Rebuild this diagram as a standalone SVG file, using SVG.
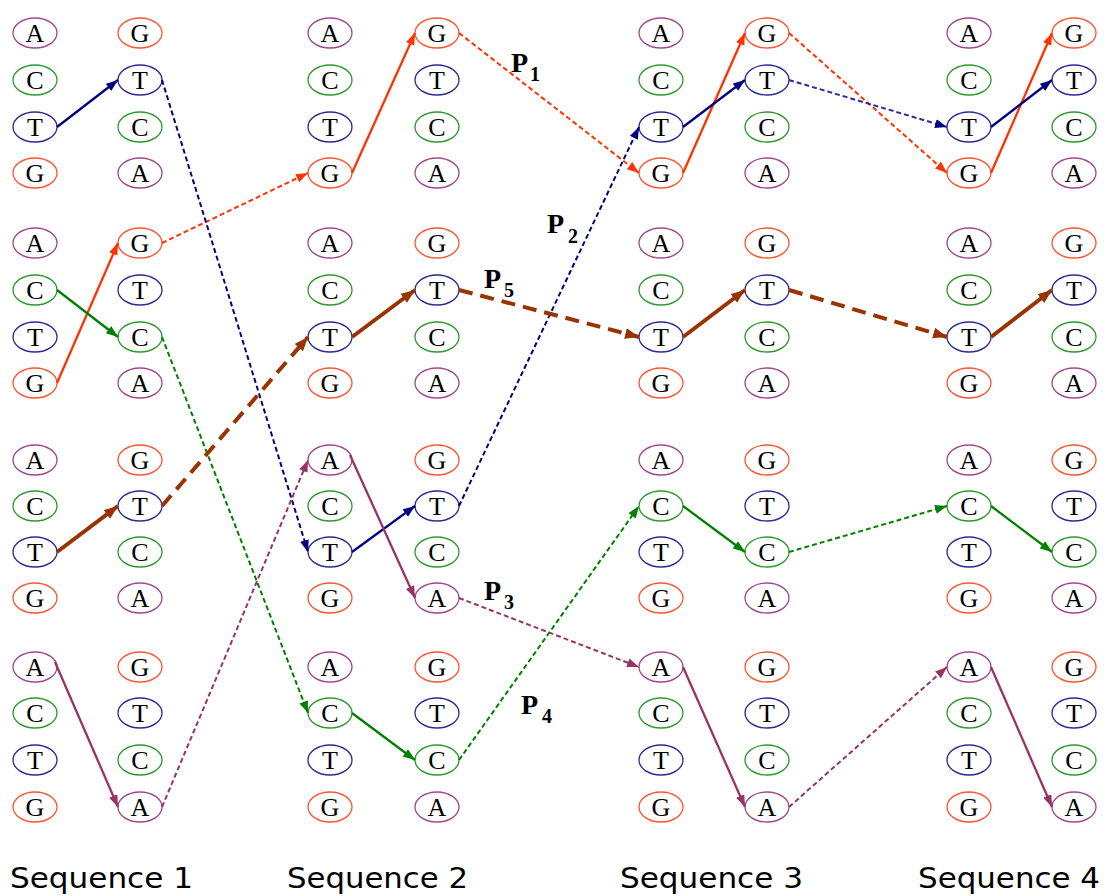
<svg xmlns="http://www.w3.org/2000/svg" width="1107" height="896" viewBox="0 0 1107 896">
<style>
.n ellipse{fill:#fff;stroke-width:1.3}
.n text{font-family:"Liberation Serif","Times New Roman",serif;font-size:26px;text-anchor:middle;fill:#000}
.a ellipse{stroke:#a0488c}
.c ellipse{stroke:#2e9a2e}
.t ellipse{stroke:#2a2a96}
.g ellipse{stroke:#ff5533}
.sol{fill:none;stroke-width:2.3}
.das{fill:none;stroke-width:2;stroke-dasharray:5 3}
.p1{stroke:#ff3300}.p2{stroke:#000080}.p3{stroke:#993366}.p4{stroke:#008000}
.p5s{fill:none;stroke:#993300;stroke-width:4}
.p5d{fill:none;stroke:#993300;stroke-width:4;stroke-dasharray:14 8}
.lbl{font-family:"Liberation Serif","Times New Roman",serif;font-size:28px;font-weight:bold;fill:#000}
.sub{font-family:"Liberation Serif","Times New Roman",serif;font-size:20px;font-weight:bold;fill:#000}
.seq{font-family:"DejaVu Sans",Verdana,sans-serif;font-size:28px;fill:#000}
</style>
<defs>
<marker id="m1" markerUnits="userSpaceOnUse" markerWidth="13" markerHeight="10" refX="12" refY="4.5" orient="auto"><path d="M0,0 L12,4.5 L0,9 z" fill="#ff3300"/></marker>
<marker id="m2" markerUnits="userSpaceOnUse" markerWidth="13" markerHeight="10" refX="12" refY="4.5" orient="auto"><path d="M0,0 L12,4.5 L0,9 z" fill="#000080"/></marker>
<marker id="m3" markerUnits="userSpaceOnUse" markerWidth="13" markerHeight="10" refX="12" refY="4.5" orient="auto"><path d="M0,0 L12,4.5 L0,9 z" fill="#993366"/></marker>
<marker id="m4" markerUnits="userSpaceOnUse" markerWidth="13" markerHeight="10" refX="12" refY="4.5" orient="auto"><path d="M0,0 L12,4.5 L0,9 z" fill="#008000"/></marker>
<marker id="m5" markerUnits="userSpaceOnUse" markerWidth="15" markerHeight="12" refX="14" refY="5.5" orient="auto"><path d="M0,0 L14,5.5 L0,11 z" fill="#993300"/></marker>
</defs>

<!-- Sequence 1 -->
<g id="s1L1A" class="n a"><ellipse cx="35" cy="33" rx="22" ry="15"/><text x="35" y="42">A</text></g>
<g id="s1L1C" class="n c"><ellipse cx="35" cy="80" rx="22" ry="15"/><text x="35" y="89">C</text></g>
<g id="s1L1T" class="n t"><ellipse cx="35" cy="127" rx="22" ry="15"/><text x="35" y="136">T</text></g>
<g id="s1L1G" class="n g"><ellipse cx="35" cy="173" rx="22" ry="15"/><text x="35" y="182">G</text></g>
<g id="s1R1G" class="n g"><ellipse cx="140" cy="33" rx="22" ry="15"/><text x="140" y="42">G</text></g>
<g id="s1R1T" class="n t"><ellipse cx="140" cy="80" rx="22" ry="15"/><text x="140" y="89">T</text></g>
<g id="s1R1C" class="n c"><ellipse cx="140" cy="127" rx="22" ry="15"/><text x="140" y="136">C</text></g>
<g id="s1R1A" class="n a"><ellipse cx="140" cy="173" rx="22" ry="15"/><text x="140" y="182">A</text></g>

<g id="s1L2A" class="n a"><ellipse cx="35" cy="243" rx="22" ry="15"/><text x="35" y="252">A</text></g>
<g id="s1L2C" class="n c"><ellipse cx="35" cy="290" rx="22" ry="15"/><text x="35" y="299">C</text></g>
<g id="s1L2T" class="n t"><ellipse cx="35" cy="337" rx="22" ry="15"/><text x="35" y="346">T</text></g>
<g id="s1L2G" class="n g"><ellipse cx="35" cy="383" rx="22" ry="15"/><text x="35" y="392">G</text></g>
<g id="s1R2G" class="n g"><ellipse cx="140" cy="243" rx="22" ry="15"/><text x="140" y="252">G</text></g>
<g id="s1R2T" class="n t"><ellipse cx="140" cy="290" rx="22" ry="15"/><text x="140" y="299">T</text></g>
<g id="s1R2C" class="n c"><ellipse cx="140" cy="337" rx="22" ry="15"/><text x="140" y="346">C</text></g>
<g id="s1R2A" class="n a"><ellipse cx="140" cy="383" rx="22" ry="15"/><text x="140" y="392">A</text></g>

<g id="s1L3A" class="n a"><ellipse cx="35" cy="460" rx="22" ry="15"/><text x="35" y="469">A</text></g>
<g id="s1L3C" class="n c"><ellipse cx="35" cy="506" rx="22" ry="15"/><text x="35" y="515">C</text></g>
<g id="s1L3T" class="n t"><ellipse cx="35" cy="552" rx="22" ry="15"/><text x="35" y="561">T</text></g>
<g id="s1L3G" class="n g"><ellipse cx="35" cy="598" rx="22" ry="15"/><text x="35" y="607">G</text></g>
<g id="s1R3G" class="n g"><ellipse cx="140" cy="460" rx="22" ry="15"/><text x="140" y="469">G</text></g>
<g id="s1R3T" class="n t"><ellipse cx="140" cy="506" rx="22" ry="15"/><text x="140" y="515">T</text></g>
<g id="s1R3C" class="n c"><ellipse cx="140" cy="552" rx="22" ry="15"/><text x="140" y="561">C</text></g>
<g id="s1R3A" class="n a"><ellipse cx="140" cy="598" rx="22" ry="15"/><text x="140" y="607">A</text></g>

<g id="s1L4A" class="n a"><ellipse cx="35" cy="667" rx="22" ry="15"/><text x="35" y="676">A</text></g>
<g id="s1L4C" class="n c"><ellipse cx="35" cy="713" rx="22" ry="15"/><text x="35" y="722">C</text></g>
<g id="s1L4T" class="n t"><ellipse cx="35" cy="760" rx="22" ry="15"/><text x="35" y="769">T</text></g>
<g id="s1L4G" class="n g"><ellipse cx="35" cy="807" rx="22" ry="15"/><text x="35" y="816">G</text></g>
<g id="s1R4G" class="n g"><ellipse cx="140" cy="667" rx="22" ry="15"/><text x="140" y="676">G</text></g>
<g id="s1R4T" class="n t"><ellipse cx="140" cy="713" rx="22" ry="15"/><text x="140" y="722">T</text></g>
<g id="s1R4C" class="n c"><ellipse cx="140" cy="760" rx="22" ry="15"/><text x="140" y="769">C</text></g>
<g id="s1R4A" class="n a"><ellipse cx="140" cy="807" rx="22" ry="15"/><text x="140" y="816">A</text></g>

<!-- Sequence 2 -->
<g id="s2L1A" class="n a"><ellipse cx="330" cy="33" rx="22" ry="15"/><text x="330" y="42">A</text></g>
<g id="s2L1C" class="n c"><ellipse cx="330" cy="80" rx="22" ry="15"/><text x="330" y="89">C</text></g>
<g id="s2L1T" class="n t"><ellipse cx="330" cy="127" rx="22" ry="15"/><text x="330" y="136">T</text></g>
<g id="s2L1G" class="n g"><ellipse cx="330" cy="173" rx="22" ry="15"/><text x="330" y="182">G</text></g>
<g id="s2R1G" class="n g"><ellipse cx="437" cy="33" rx="22" ry="15"/><text x="437" y="42">G</text></g>
<g id="s2R1T" class="n t"><ellipse cx="437" cy="80" rx="22" ry="15"/><text x="437" y="89">T</text></g>
<g id="s2R1C" class="n c"><ellipse cx="437" cy="127" rx="22" ry="15"/><text x="437" y="136">C</text></g>
<g id="s2R1A" class="n a"><ellipse cx="437" cy="173" rx="22" ry="15"/><text x="437" y="182">A</text></g>

<g id="s2L2A" class="n a"><ellipse cx="330" cy="243" rx="22" ry="15"/><text x="330" y="252">A</text></g>
<g id="s2L2C" class="n c"><ellipse cx="330" cy="290" rx="22" ry="15"/><text x="330" y="299">C</text></g>
<g id="s2L2T" class="n t"><ellipse cx="330" cy="337" rx="22" ry="15"/><text x="330" y="346">T</text></g>
<g id="s2L2G" class="n g"><ellipse cx="330" cy="383" rx="22" ry="15"/><text x="330" y="392">G</text></g>
<g id="s2R2G" class="n g"><ellipse cx="437" cy="243" rx="22" ry="15"/><text x="437" y="252">G</text></g>
<g id="s2R2T" class="n t"><ellipse cx="437" cy="290" rx="22" ry="15"/><text x="437" y="299">T</text></g>
<g id="s2R2C" class="n c"><ellipse cx="437" cy="337" rx="22" ry="15"/><text x="437" y="346">C</text></g>
<g id="s2R2A" class="n a"><ellipse cx="437" cy="383" rx="22" ry="15"/><text x="437" y="392">A</text></g>

<g id="s2L3A" class="n a"><ellipse cx="330" cy="460" rx="22" ry="15"/><text x="330" y="469">A</text></g>
<g id="s2L3C" class="n c"><ellipse cx="330" cy="506" rx="22" ry="15"/><text x="330" y="515">C</text></g>
<g id="s2L3T" class="n t"><ellipse cx="330" cy="552" rx="22" ry="15"/><text x="330" y="561">T</text></g>
<g id="s2L3G" class="n g"><ellipse cx="330" cy="598" rx="22" ry="15"/><text x="330" y="607">G</text></g>
<g id="s2R3G" class="n g"><ellipse cx="437" cy="460" rx="22" ry="15"/><text x="437" y="469">G</text></g>
<g id="s2R3T" class="n t"><ellipse cx="437" cy="506" rx="22" ry="15"/><text x="437" y="515">T</text></g>
<g id="s2R3C" class="n c"><ellipse cx="437" cy="552" rx="22" ry="15"/><text x="437" y="561">C</text></g>
<g id="s2R3A" class="n a"><ellipse cx="437" cy="598" rx="22" ry="15"/><text x="437" y="607">A</text></g>

<g id="s2L4A" class="n a"><ellipse cx="330" cy="667" rx="22" ry="15"/><text x="330" y="676">A</text></g>
<g id="s2L4C" class="n c"><ellipse cx="330" cy="713" rx="22" ry="15"/><text x="330" y="722">C</text></g>
<g id="s2L4T" class="n t"><ellipse cx="330" cy="760" rx="22" ry="15"/><text x="330" y="769">T</text></g>
<g id="s2L4G" class="n g"><ellipse cx="330" cy="807" rx="22" ry="15"/><text x="330" y="816">G</text></g>
<g id="s2R4G" class="n g"><ellipse cx="437" cy="667" rx="22" ry="15"/><text x="437" y="676">G</text></g>
<g id="s2R4T" class="n t"><ellipse cx="437" cy="713" rx="22" ry="15"/><text x="437" y="722">T</text></g>
<g id="s2R4C" class="n c"><ellipse cx="437" cy="760" rx="22" ry="15"/><text x="437" y="769">C</text></g>
<g id="s2R4A" class="n a"><ellipse cx="437" cy="807" rx="22" ry="15"/><text x="437" y="816">A</text></g>

<!-- Sequence 3 -->
<g id="s3L1A" class="n a"><ellipse cx="661" cy="33" rx="22" ry="15"/><text x="661" y="42">A</text></g>
<g id="s3L1C" class="n c"><ellipse cx="661" cy="80" rx="22" ry="15"/><text x="661" y="89">C</text></g>
<g id="s3L1T" class="n t"><ellipse cx="661" cy="127" rx="22" ry="15"/><text x="661" y="136">T</text></g>
<g id="s3L1G" class="n g"><ellipse cx="661" cy="173" rx="22" ry="15"/><text x="661" y="182">G</text></g>
<g id="s3R1G" class="n g"><ellipse cx="767" cy="33" rx="22" ry="15"/><text x="767" y="42">G</text></g>
<g id="s3R1T" class="n t"><ellipse cx="767" cy="80" rx="22" ry="15"/><text x="767" y="89">T</text></g>
<g id="s3R1C" class="n c"><ellipse cx="767" cy="127" rx="22" ry="15"/><text x="767" y="136">C</text></g>
<g id="s3R1A" class="n a"><ellipse cx="767" cy="173" rx="22" ry="15"/><text x="767" y="182">A</text></g>

<g id="s3L2A" class="n a"><ellipse cx="661" cy="243" rx="22" ry="15"/><text x="661" y="252">A</text></g>
<g id="s3L2C" class="n c"><ellipse cx="661" cy="290" rx="22" ry="15"/><text x="661" y="299">C</text></g>
<g id="s3L2T" class="n t"><ellipse cx="661" cy="337" rx="22" ry="15"/><text x="661" y="346">T</text></g>
<g id="s3L2G" class="n g"><ellipse cx="661" cy="383" rx="22" ry="15"/><text x="661" y="392">G</text></g>
<g id="s3R2G" class="n g"><ellipse cx="767" cy="243" rx="22" ry="15"/><text x="767" y="252">G</text></g>
<g id="s3R2T" class="n t"><ellipse cx="767" cy="290" rx="22" ry="15"/><text x="767" y="299">T</text></g>
<g id="s3R2C" class="n c"><ellipse cx="767" cy="337" rx="22" ry="15"/><text x="767" y="346">C</text></g>
<g id="s3R2A" class="n a"><ellipse cx="767" cy="383" rx="22" ry="15"/><text x="767" y="392">A</text></g>

<g id="s3L3A" class="n a"><ellipse cx="661" cy="460" rx="22" ry="15"/><text x="661" y="469">A</text></g>
<g id="s3L3C" class="n c"><ellipse cx="661" cy="506" rx="22" ry="15"/><text x="661" y="515">C</text></g>
<g id="s3L3T" class="n t"><ellipse cx="661" cy="552" rx="22" ry="15"/><text x="661" y="561">T</text></g>
<g id="s3L3G" class="n g"><ellipse cx="661" cy="598" rx="22" ry="15"/><text x="661" y="607">G</text></g>
<g id="s3R3G" class="n g"><ellipse cx="767" cy="460" rx="22" ry="15"/><text x="767" y="469">G</text></g>
<g id="s3R3T" class="n t"><ellipse cx="767" cy="506" rx="22" ry="15"/><text x="767" y="515">T</text></g>
<g id="s3R3C" class="n c"><ellipse cx="767" cy="552" rx="22" ry="15"/><text x="767" y="561">C</text></g>
<g id="s3R3A" class="n a"><ellipse cx="767" cy="598" rx="22" ry="15"/><text x="767" y="607">A</text></g>

<g id="s3L4A" class="n a"><ellipse cx="661" cy="667" rx="22" ry="15"/><text x="661" y="676">A</text></g>
<g id="s3L4C" class="n c"><ellipse cx="661" cy="713" rx="22" ry="15"/><text x="661" y="722">C</text></g>
<g id="s3L4T" class="n t"><ellipse cx="661" cy="760" rx="22" ry="15"/><text x="661" y="769">T</text></g>
<g id="s3L4G" class="n g"><ellipse cx="661" cy="807" rx="22" ry="15"/><text x="661" y="816">G</text></g>
<g id="s3R4G" class="n g"><ellipse cx="767" cy="667" rx="22" ry="15"/><text x="767" y="676">G</text></g>
<g id="s3R4T" class="n t"><ellipse cx="767" cy="713" rx="22" ry="15"/><text x="767" y="722">T</text></g>
<g id="s3R4C" class="n c"><ellipse cx="767" cy="760" rx="22" ry="15"/><text x="767" y="769">C</text></g>
<g id="s3R4A" class="n a"><ellipse cx="767" cy="807" rx="22" ry="15"/><text x="767" y="816">A</text></g>

<!-- Sequence 4 -->
<g id="s4L1A" class="n a"><ellipse cx="969" cy="33" rx="22" ry="15"/><text x="969" y="42">A</text></g>
<g id="s4L1C" class="n c"><ellipse cx="969" cy="80" rx="22" ry="15"/><text x="969" y="89">C</text></g>
<g id="s4L1T" class="n t"><ellipse cx="969" cy="127" rx="22" ry="15"/><text x="969" y="136">T</text></g>
<g id="s4L1G" class="n g"><ellipse cx="969" cy="173" rx="22" ry="15"/><text x="969" y="182">G</text></g>
<g id="s4R1G" class="n g"><ellipse cx="1074" cy="33" rx="22" ry="15"/><text x="1074" y="42">G</text></g>
<g id="s4R1T" class="n t"><ellipse cx="1074" cy="80" rx="22" ry="15"/><text x="1074" y="89">T</text></g>
<g id="s4R1C" class="n c"><ellipse cx="1074" cy="127" rx="22" ry="15"/><text x="1074" y="136">C</text></g>
<g id="s4R1A" class="n a"><ellipse cx="1074" cy="173" rx="22" ry="15"/><text x="1074" y="182">A</text></g>

<g id="s4L2A" class="n a"><ellipse cx="969" cy="243" rx="22" ry="15"/><text x="969" y="252">A</text></g>
<g id="s4L2C" class="n c"><ellipse cx="969" cy="290" rx="22" ry="15"/><text x="969" y="299">C</text></g>
<g id="s4L2T" class="n t"><ellipse cx="969" cy="337" rx="22" ry="15"/><text x="969" y="346">T</text></g>
<g id="s4L2G" class="n g"><ellipse cx="969" cy="383" rx="22" ry="15"/><text x="969" y="392">G</text></g>
<g id="s4R2G" class="n g"><ellipse cx="1074" cy="243" rx="22" ry="15"/><text x="1074" y="252">G</text></g>
<g id="s4R2T" class="n t"><ellipse cx="1074" cy="290" rx="22" ry="15"/><text x="1074" y="299">T</text></g>
<g id="s4R2C" class="n c"><ellipse cx="1074" cy="337" rx="22" ry="15"/><text x="1074" y="346">C</text></g>
<g id="s4R2A" class="n a"><ellipse cx="1074" cy="383" rx="22" ry="15"/><text x="1074" y="392">A</text></g>

<g id="s4L3A" class="n a"><ellipse cx="969" cy="460" rx="22" ry="15"/><text x="969" y="469">A</text></g>
<g id="s4L3C" class="n c"><ellipse cx="969" cy="506" rx="22" ry="15"/><text x="969" y="515">C</text></g>
<g id="s4L3T" class="n t"><ellipse cx="969" cy="552" rx="22" ry="15"/><text x="969" y="561">T</text></g>
<g id="s4L3G" class="n g"><ellipse cx="969" cy="598" rx="22" ry="15"/><text x="969" y="607">G</text></g>
<g id="s4R3G" class="n g"><ellipse cx="1074" cy="460" rx="22" ry="15"/><text x="1074" y="469">G</text></g>
<g id="s4R3T" class="n t"><ellipse cx="1074" cy="506" rx="22" ry="15"/><text x="1074" y="515">T</text></g>
<g id="s4R3C" class="n c"><ellipse cx="1074" cy="552" rx="22" ry="15"/><text x="1074" y="561">C</text></g>
<g id="s4R3A" class="n a"><ellipse cx="1074" cy="598" rx="22" ry="15"/><text x="1074" y="607">A</text></g>

<g id="s4L4A" class="n a"><ellipse cx="969" cy="667" rx="22" ry="15"/><text x="969" y="676">A</text></g>
<g id="s4L4C" class="n c"><ellipse cx="969" cy="713" rx="22" ry="15"/><text x="969" y="722">C</text></g>
<g id="s4L4T" class="n t"><ellipse cx="969" cy="760" rx="22" ry="15"/><text x="969" y="769">T</text></g>
<g id="s4L4G" class="n g"><ellipse cx="969" cy="807" rx="22" ry="15"/><text x="969" y="816">G</text></g>
<g id="s4R4G" class="n g"><ellipse cx="1074" cy="667" rx="22" ry="15"/><text x="1074" y="676">G</text></g>
<g id="s4R4T" class="n t"><ellipse cx="1074" cy="713" rx="22" ry="15"/><text x="1074" y="722">T</text></g>
<g id="s4R4C" class="n c"><ellipse cx="1074" cy="760" rx="22" ry="15"/><text x="1074" y="769">C</text></g>
<g id="s4R4A" class="n a"><ellipse cx="1074" cy="807" rx="22" ry="15"/><text x="1074" y="816">A</text></g>

<g id="connectors">
<!-- P1 -->
<line class="sol p1" x1="57" y1="383" x2="118" y2="243" marker-end="url(#m1)"/>
<line class="das p1" x1="162" y1="243" x2="308" y2="173" marker-end="url(#m1)"/>
<line class="sol p1" x1="352" y1="173" x2="415" y2="33" marker-end="url(#m1)"/>
<line class="das p1" x1="459" y1="33" x2="639" y2="173" marker-end="url(#m1)"/>
<line class="sol p1" x1="683" y1="173" x2="745" y2="33" marker-end="url(#m1)"/>
<line class="das p1" x1="789" y1="33" x2="947" y2="173" marker-end="url(#m1)"/>
<line class="sol p1" x1="991" y1="173" x2="1052" y2="33" marker-end="url(#m1)"/>
<!-- P2 -->
<line class="sol p2" x1="57" y1="127" x2="118" y2="80" marker-end="url(#m2)"/>
<line class="das p2" x1="162" y1="80" x2="308" y2="552" marker-end="url(#m2)"/>
<line class="sol p2" x1="352" y1="552" x2="415" y2="506" marker-end="url(#m2)"/>
<line class="das p2" x1="459" y1="506" x2="639" y2="127" marker-end="url(#m2)"/>
<line class="sol p2" x1="683" y1="127" x2="745" y2="80" marker-end="url(#m2)"/>
<line class="das p2" x1="789" y1="80" x2="947" y2="127" marker-end="url(#m2)" style="stroke:#2e2e9a"/>
<line class="sol p2" x1="991" y1="127" x2="1052" y2="80" marker-end="url(#m2)"/>
<!-- P3 -->
<line class="sol p3" x1="55" y1="662" x2="118" y2="807" marker-end="url(#m3)"/>
<line class="das p3" x1="162" y1="807" x2="308" y2="460" marker-end="url(#m3)"/>
<line class="sol p3" x1="350" y1="455" x2="415" y2="598" marker-end="url(#m3)"/>
<line class="das p3" x1="459" y1="598" x2="639" y2="667" marker-end="url(#m3)"/>
<line class="sol p3" x1="683" y1="667" x2="745" y2="807" marker-end="url(#m3)"/>
<line class="das p3" x1="789" y1="807" x2="947" y2="667" marker-end="url(#m3)"/>
<line class="sol p3" x1="991" y1="667" x2="1052" y2="807" marker-end="url(#m3)"/>
<!-- P4 -->
<line class="sol p4" x1="57" y1="290" x2="118" y2="337" marker-end="url(#m4)"/>
<line class="das p4" x1="162" y1="337" x2="308" y2="713" marker-end="url(#m4)"/>
<line class="sol p4" x1="352" y1="713" x2="415" y2="760" marker-end="url(#m4)"/>
<line class="das p4" x1="459" y1="760" x2="639" y2="506" marker-end="url(#m4)"/>
<line class="sol p4" x1="683" y1="506" x2="745" y2="552" marker-end="url(#m4)"/>
<line class="das p4" x1="789" y1="552" x2="947" y2="506" marker-end="url(#m4)"/>
<line class="sol p4" x1="991" y1="506" x2="1052" y2="552" marker-end="url(#m4)"/>
<!-- P5 -->
<line class="p5s" x1="57" y1="552" x2="118" y2="506" marker-end="url(#m5)"/>
<line class="p5d" x1="162" y1="506" x2="308" y2="337" marker-end="url(#m5)"/>
<line class="p5s" x1="352" y1="337" x2="415" y2="290" marker-end="url(#m5)"/>
<line class="p5d" x1="459" y1="290" x2="639" y2="337" marker-end="url(#m5)"/>
<line class="p5s" x1="683" y1="337" x2="745" y2="290" marker-end="url(#m5)"/>
<line class="p5d" x1="789" y1="290" x2="947" y2="337" marker-end="url(#m5)"/>
<line class="p5s" x1="991" y1="337" x2="1052" y2="290" marker-end="url(#m5)"/>
</g>

<g id="path-labels">
<text class="lbl" x="511" y="72">P</text><text class="sub" x="530" y="81">1</text>
<text class="lbl" x="547" y="233">P</text><text class="sub" x="568" y="243">2</text>
<text class="lbl" x="484" y="600">P</text><text class="sub" x="504" y="609">3</text>
<text class="lbl" x="521" y="714">P</text><text class="sub" x="542" y="723">4</text>
<text class="lbl" x="484" y="288">P</text><text class="sub" x="504" y="297">5</text>
</g>

<g id="sequence-labels">
<text class="seq" x="10" y="888" textLength="183" lengthAdjust="spacingAndGlyphs">Sequence 1</text>
<text class="seq" x="287" y="888" textLength="181" lengthAdjust="spacingAndGlyphs">Sequence 2</text>
<text class="seq" x="620" y="888" textLength="183" lengthAdjust="spacingAndGlyphs">Sequence 3</text>
<text class="seq" x="918" y="888" textLength="182" lengthAdjust="spacingAndGlyphs">Sequence 4</text>
</g>
</svg>
